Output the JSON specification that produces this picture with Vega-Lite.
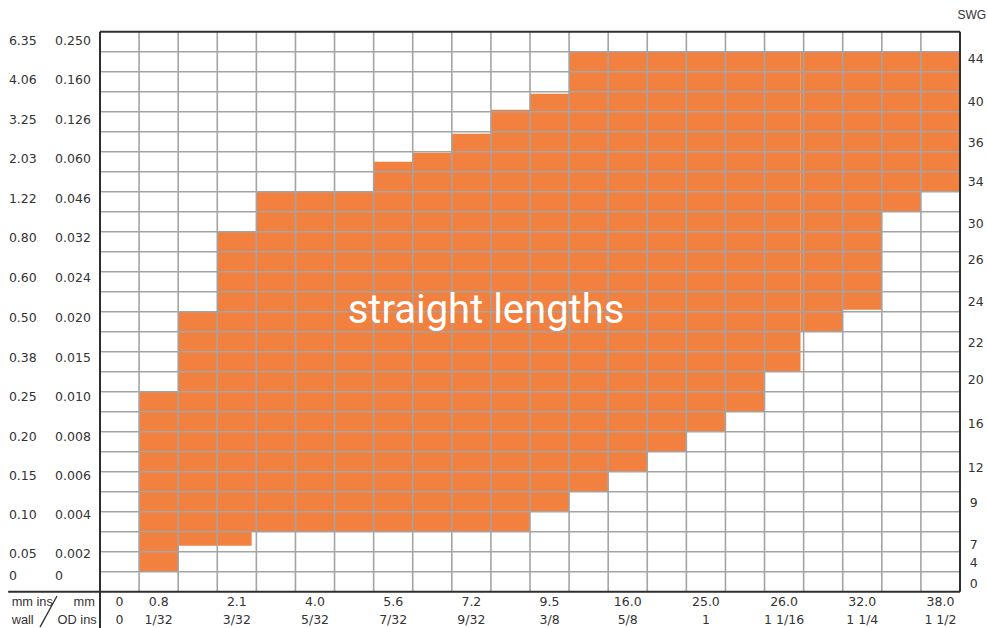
{
  "$schema": "https://vega.github.io/schema/vega-lite/v6.json",
  "width": 860,
  "height": 560,
  "autosize": {"type": "none"},
  "padding": {"left": 100, "top": 31.7, "right": 27, "bottom": 36.3},
  "background": "white",
  "config": {"view": {"stroke": null}},
  "datasets": {
    "cells": [
      {"x0": 1, "x1": 2, "lo": 1, "hi": 10},
      {"x0": 2, "x1": 3, "lo": 2.3, "hi": 14},
      {"x0": 3, "x1": 3.88, "lo": 2.3, "hi": 3},
      {"x0": 3, "x1": 4, "lo": 3, "hi": 18},
      {"x0": 4, "x1": 5, "lo": 3, "hi": 20},
      {"x0": 5, "x1": 6, "lo": 3, "hi": 20},
      {"x0": 6, "x1": 7, "lo": 3, "hi": 20},
      {"x0": 7, "x1": 8, "lo": 3, "hi": 21.5},
      {"x0": 8, "x1": 9, "lo": 3, "hi": 21.95},
      {"x0": 9, "x1": 10, "lo": 3, "hi": 22.9},
      {"x0": 10, "x1": 11, "lo": 3, "hi": 24.1},
      {"x0": 11, "x1": 12, "lo": 4, "hi": 24.9},
      {"x0": 12, "x1": 13, "lo": 5, "hi": 27},
      {"x0": 13, "x1": 14, "lo": 6, "hi": 27},
      {"x0": 14, "x1": 15, "lo": 7, "hi": 27},
      {"x0": 15, "x1": 16, "lo": 8, "hi": 27},
      {"x0": 16, "x1": 17, "lo": 9, "hi": 27},
      {"x0": 17, "x1": 17.92, "lo": 11, "hi": 27},
      {"x0": 17.92, "x1": 18, "lo": 13, "hi": 27},
      {"x0": 18, "x1": 19, "lo": 13, "hi": 27},
      {"x0": 19, "x1": 20, "lo": 14.1, "hi": 27},
      {"x0": 20, "x1": 21, "lo": 19, "hi": 27},
      {"x0": 21, "x1": 22, "lo": 20, "hi": 27}
    ],
    "vlines": [
      {"c": 1, "lo": 0, "hi": 28}, {"c": 2, "lo": 0, "hi": 28}, {"c": 3, "lo": 0, "hi": 28},
      {"c": 4, "lo": 0, "hi": 28}, {"c": 5, "lo": 0, "hi": 28}, {"c": 6, "lo": 0, "hi": 28},
      {"c": 7, "lo": 0, "hi": 28}, {"c": 8, "lo": 0, "hi": 28}, {"c": 9, "lo": 0, "hi": 28},
      {"c": 10, "lo": 0, "hi": 28}, {"c": 11, "lo": 0, "hi": 28}, {"c": 12, "lo": 0, "hi": 28},
      {"c": 13, "lo": 0, "hi": 28}, {"c": 14, "lo": 0, "hi": 28}, {"c": 15, "lo": 0, "hi": 28},
      {"c": 16, "lo": 0, "hi": 28}, {"c": 17, "lo": 0, "hi": 28}, {"c": 18, "lo": 0, "hi": 28},
      {"c": 19, "lo": 0, "hi": 28}, {"c": 20, "lo": 0, "hi": 28}, {"c": 21, "lo": 0, "hi": 28}
    ],
    "hlines": [
      {"r": 1, "lo": 0, "hi": 22}, {"r": 2, "lo": 0, "hi": 22}, {"r": 3, "lo": 0, "hi": 22},
      {"r": 4, "lo": 0, "hi": 22}, {"r": 5, "lo": 0, "hi": 22}, {"r": 6, "lo": 0, "hi": 22},
      {"r": 7, "lo": 0, "hi": 22}, {"r": 8, "lo": 0, "hi": 22}, {"r": 9, "lo": 0, "hi": 22},
      {"r": 10, "lo": 0, "hi": 22}, {"r": 11, "lo": 0, "hi": 22}, {"r": 12, "lo": 0, "hi": 22},
      {"r": 13, "lo": 0, "hi": 22}, {"r": 14, "lo": 0, "hi": 22}, {"r": 15, "lo": 0, "hi": 22},
      {"r": 16, "lo": 0, "hi": 22}, {"r": 17, "lo": 0, "hi": 22}, {"r": 18, "lo": 0, "hi": 22},
      {"r": 19, "lo": 0, "hi": 22}, {"r": 20, "lo": 0, "hi": 22}, {"r": 21, "lo": 0, "hi": 22},
      {"r": 22, "lo": 0, "hi": 22}, {"r": 23, "lo": 0, "hi": 22}, {"r": 24, "lo": 0, "hi": 22},
      {"r": 25, "lo": 0, "hi": 22}, {"r": 26, "lo": 0, "hi": 22}, {"r": 27, "lo": 0, "hi": 22}
    ],
    "frame": [
      {"x": 0, "x2": 0, "y": -1.815, "y2": 28, "w": "border"},
      {"x": 22, "x2": 22, "y": 0, "y2": 28, "w": "border"},
      {"x": 0, "x2": 22, "y": 28, "y2": 28, "w": "border"},
      {"x": -2.35, "x2": 22, "y": 0, "y2": 0, "w": "border"},
      {"x": -1.535, "x2": -1.1, "y": -1.77, "y2": -0.215, "w": "slash"}
    ],
    "labels": [
      {"t": "6.35", "x": -2.33, "y": 27.55, "g": "left"},
      {"t": "0.250", "x": -1.15, "y": 27.55, "g": "left"},
      {"t": "4.06", "x": -2.33, "y": 25.58, "g": "left"},
      {"t": "0.160", "x": -1.15, "y": 25.58, "g": "left"},
      {"t": "3.25", "x": -2.33, "y": 23.6, "g": "left"},
      {"t": "0.126", "x": -1.15, "y": 23.6, "g": "left"},
      {"t": "2.03", "x": -2.33, "y": 21.62, "g": "left"},
      {"t": "0.060", "x": -1.15, "y": 21.62, "g": "left"},
      {"t": "1.22", "x": -2.33, "y": 19.63, "g": "left"},
      {"t": "0.046", "x": -1.15, "y": 19.63, "g": "left"},
      {"t": "0.80", "x": -2.33, "y": 17.67, "g": "left"},
      {"t": "0.032", "x": -1.15, "y": 17.67, "g": "left"},
      {"t": "0.60", "x": -2.33, "y": 15.7, "g": "left"},
      {"t": "0.024", "x": -1.15, "y": 15.7, "g": "left"},
      {"t": "0.50", "x": -2.33, "y": 13.67, "g": "left"},
      {"t": "0.020", "x": -1.15, "y": 13.67, "g": "left"},
      {"t": "0.38", "x": -2.33, "y": 11.7, "g": "left"},
      {"t": "0.015", "x": -1.15, "y": 11.7, "g": "left"},
      {"t": "0.25", "x": -2.33, "y": 9.72, "g": "left"},
      {"t": "0.010", "x": -1.15, "y": 9.72, "g": "left"},
      {"t": "0.20", "x": -2.33, "y": 7.75, "g": "left"},
      {"t": "0.008", "x": -1.15, "y": 7.75, "g": "left"},
      {"t": "0.15", "x": -2.33, "y": 5.78, "g": "left"},
      {"t": "0.006", "x": -1.15, "y": 5.78, "g": "left"},
      {"t": "0.10", "x": -2.33, "y": 3.83, "g": "left"},
      {"t": "0.004", "x": -1.15, "y": 3.83, "g": "left"},
      {"t": "0.05", "x": -2.33, "y": 1.87, "g": "left"},
      {"t": "0.002", "x": -1.15, "y": 1.87, "g": "left"},
      {"t": "0", "x": -2.33, "y": 0.8, "g": "left"},
      {"t": "0", "x": -1.15, "y": 0.8, "g": "left"},
      {"t": "44", "x": 22.2, "y": 26.62, "g": "left"},
      {"t": "40", "x": 22.2, "y": 24.5, "g": "left"},
      {"t": "36", "x": 22.2, "y": 22.45, "g": "left"},
      {"t": "34", "x": 22.2, "y": 20.5, "g": "left"},
      {"t": "30", "x": 22.2, "y": 18.4, "g": "left"},
      {"t": "26", "x": 22.2, "y": 16.6, "g": "left"},
      {"t": "24", "x": 22.2, "y": 14.5, "g": "left"},
      {"t": "22", "x": 22.2, "y": 12.45, "g": "left"},
      {"t": "20", "x": 22.2, "y": 10.6, "g": "left"},
      {"t": "16", "x": 22.2, "y": 8.37, "g": "left"},
      {"t": "12", "x": 22.2, "y": 6.2, "g": "left"},
      {"t": "9", "x": 22.25, "y": 4.42, "g": "left"},
      {"t": "7", "x": 22.25, "y": 2.33, "g": "left"},
      {"t": "4", "x": 22.25, "y": 1.42, "g": "left"},
      {"t": "0", "x": 22.25, "y": 0.37, "g": "left"},
      {"t": "mm ins", "x": -2.26, "y": -0.5, "g": "cornerLeft"},
      {"t": "wall", "x": -2.26, "y": -1.42, "g": "cornerLeft"},
      {"t": "mm", "x": -0.13, "y": -0.5, "g": "cornerRight"},
      {"t": "OD ins", "x": -0.085, "y": -1.42, "g": "cornerRight"},
      {"t": "0", "x": 0.5, "y": -0.5, "g": "center"},
      {"t": "0", "x": 0.5, "y": -1.42, "g": "center"},
      {"t": "0.8", "x": 1.5, "y": -0.5, "g": "center"},
      {"t": "1/32", "x": 1.5, "y": -1.42, "g": "center"},
      {"t": "2.1", "x": 3.5, "y": -0.5, "g": "center"},
      {"t": "3/32", "x": 3.5, "y": -1.42, "g": "center"},
      {"t": "4.0", "x": 5.5, "y": -0.5, "g": "center"},
      {"t": "5/32", "x": 5.5, "y": -1.42, "g": "center"},
      {"t": "5.6", "x": 7.5, "y": -0.5, "g": "center"},
      {"t": "7/32", "x": 7.5, "y": -1.42, "g": "center"},
      {"t": "7.2", "x": 9.5, "y": -0.5, "g": "center"},
      {"t": "9/32", "x": 9.5, "y": -1.42, "g": "center"},
      {"t": "9.5", "x": 11.5, "y": -0.5, "g": "center"},
      {"t": "3/8", "x": 11.5, "y": -1.42, "g": "center"},
      {"t": "16.0", "x": 13.5, "y": -0.5, "g": "center"},
      {"t": "5/8", "x": 13.5, "y": -1.42, "g": "center"},
      {"t": "25.0", "x": 15.5, "y": -0.5, "g": "center"},
      {"t": "1", "x": 15.5, "y": -1.42, "g": "center"},
      {"t": "26.0", "x": 17.5, "y": -0.5, "g": "center"},
      {"t": "1 1/16", "x": 17.5, "y": -1.42, "g": "center"},
      {"t": "32.0", "x": 19.5, "y": -0.5, "g": "center"},
      {"t": "1 1/4", "x": 19.5, "y": -1.42, "g": "center"},
      {"t": "38.0", "x": 21.5, "y": -0.5, "g": "center"},
      {"t": "1 1/2", "x": 21.5, "y": -1.42, "g": "center"}
    ],
    "heading": [
      {"t": "SWG", "x": 22.67, "y": 28.83}
    ],
    "inner": [
      {"t": "straight lengths", "x": 9.875, "y": 13.42}
    ]
  },
  "layer": [
    {
      "data": {"name": "cells"},
      "mark": {"type": "rect", "color": "#f2813f"},
      "encoding": {
        "x": {"field": "x0", "type": "quantitative", "scale": {"domain": [0, 22], "nice": false, "zero": false}, "axis": null},
        "x2": {"field": "x1"},
        "y": {"field": "lo", "type": "quantitative", "scale": {"domain": [0, 28], "nice": false, "zero": false}, "axis": null},
        "y2": {"field": "hi"}
      }
    },
    {
      "data": {"name": "vlines"},
      "mark": {"type": "rule", "color": "#a4a4a4", "strokeWidth": 1.6},
      "encoding": {
        "x": {"field": "c", "type": "quantitative", "axis": null},
        "y": {"field": "lo", "type": "quantitative", "axis": null},
        "y2": {"field": "hi"}
      }
    },
    {
      "data": {"name": "hlines"},
      "mark": {"type": "rule", "color": "#a4a4a4", "strokeWidth": 1.6},
      "encoding": {
        "y": {"field": "r", "type": "quantitative", "axis": null},
        "x": {"field": "lo", "type": "quantitative", "axis": null},
        "x2": {"field": "hi"}
      }
    },
    {
      "data": {"name": "frame"},
      "transform": [{"filter": "datum.w === 'border'"}],
      "mark": {"type": "rule", "color": "#2e2e2e", "strokeWidth": 2},
      "encoding": {
        "x": {"field": "x", "type": "quantitative", "axis": null},
        "x2": {"field": "x2"},
        "y": {"field": "y", "type": "quantitative", "axis": null},
        "y2": {"field": "y2"}
      }
    },
    {
      "data": {"name": "frame"},
      "transform": [{"filter": "datum.w === 'slash'"}],
      "mark": {"type": "rule", "color": "#2e2e2e", "strokeWidth": 1.3},
      "encoding": {
        "x": {"field": "x", "type": "quantitative", "axis": null},
        "x2": {"field": "x2"},
        "y": {"field": "y", "type": "quantitative", "axis": null},
        "y2": {"field": "y2"}
      }
    },
    {
      "data": {"name": "labels"},
      "transform": [{"filter": "datum.g === 'left'"}],
      "mark": {"type": "text", "align": "left", "baseline": "middle", "font": "DejaVu Sans", "fontSize": 12.5, "color": "#333333"},
      "encoding": {
        "x": {"field": "x", "type": "quantitative", "axis": null},
        "y": {"field": "y", "type": "quantitative", "axis": null},
        "text": {"field": "t"}
      }
    },
    {
      "data": {"name": "labels"},
      "transform": [{"filter": "datum.g === 'cornerLeft'"}],
      "mark": {"type": "text", "align": "left", "baseline": "middle", "font": "Liberation Sans", "fontSize": 12.8, "color": "#333333"},
      "encoding": {
        "x": {"field": "x", "type": "quantitative", "axis": null},
        "y": {"field": "y", "type": "quantitative", "axis": null},
        "text": {"field": "t"}
      }
    },
    {
      "data": {"name": "labels"},
      "transform": [{"filter": "datum.g === 'cornerRight'"}],
      "mark": {"type": "text", "align": "right", "baseline": "middle", "font": "Liberation Sans", "fontSize": 12.8, "color": "#333333"},
      "encoding": {
        "x": {"field": "x", "type": "quantitative", "axis": null},
        "y": {"field": "y", "type": "quantitative", "axis": null},
        "text": {"field": "t"}
      }
    },
    {
      "data": {"name": "labels"},
      "transform": [{"filter": "datum.g === 'center'"}],
      "mark": {"type": "text", "align": "center", "baseline": "middle", "font": "DejaVu Sans", "fontSize": 12.5, "color": "#333333"},
      "encoding": {
        "x": {"field": "x", "type": "quantitative", "axis": null},
        "y": {"field": "y", "type": "quantitative", "axis": null},
        "text": {"field": "t"}
      }
    },
    {
      "data": {"name": "heading"},
      "mark": {"type": "text", "align": "right", "baseline": "middle", "font": "Liberation Sans", "fontSize": 12, "color": "#333333"},
      "encoding": {
        "x": {"field": "x", "type": "quantitative", "axis": null},
        "y": {"field": "y", "type": "quantitative", "axis": null},
        "text": {"field": "t"}
      }
    },
    {
      "data": {"name": "inner"},
      "mark": {"type": "text", "align": "center", "baseline": "alphabetic", "font": "Roboto", "fontSize": 40, "color": "white"},
      "encoding": {
        "x": {"field": "x", "type": "quantitative", "axis": null},
        "y": {"field": "y", "type": "quantitative", "axis": null},
        "text": {"field": "t"}
      }
    }
  ]
}
